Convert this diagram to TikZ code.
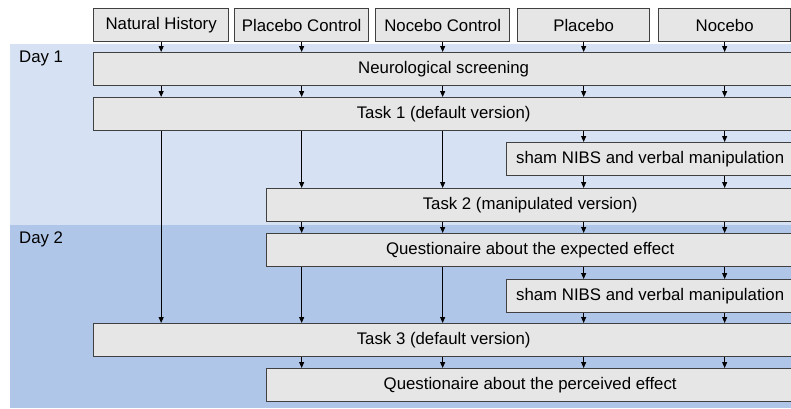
\documentclass[tikz,border=0pt]{standalone}
\usepackage{fontspec}
\setmainfont{Liberation Sans}
\usetikzlibrary{arrows.meta}
\definecolor{dayone}{RGB}{214,226,243}
\definecolor{daytwo}{RGB}{176,198,232}
\definecolor{boxfill}{RGB}{230,230,230}
\definecolor{boxline}{RGB}{64,64,64}
\tikzset{
  stage/.style={draw=boxline, fill=boxfill, line width=1.3pt, anchor=north west,
    minimum height=33pt, inner sep=0pt, font=\fontsize{16.8}{20}\selectfont},
  daylabel/.style={anchor=west, inner sep=0pt, font=\fontsize{16.8}{20}\selectfont},
  flow/.style={-{Triangle[width=5pt,length=6pt]}, line width=0.9pt, black}
}
\begin{document}
\begin{tikzpicture}[x=1pt, y=-1pt]
\useasboundingbox (0,0) rectangle (791,408);
% day backgrounds
\fill[dayone] (10,44) rectangle (791,225);
\fill[daytwo] (10,225) rectangle (791,408);
\node[daylabel] (day1) at (19,58) {Day 1};
\node[daylabel] (day2) at (19,239) {Day 2};

% groups
\node[stage, minimum width=135pt] (nathist) at (93,8) {Natural History};
\node[stage, minimum width=134pt] (plactrl) at (234,8) {Placebo Control};
\node[stage, minimum width=134pt] (noctrl) at (375,8) {Nocebo Control};
\node[stage, minimum width=132pt] (plac) at (517,8) {Placebo};
\node[stage, minimum width=132pt] (noc) at (658,8) {Nocebo};

% stages
\node[stage, minimum width=700pt] (neuro) at (93,52) {Neurological screening};
\node[stage, minimum width=700pt] (task1) at (93,97) {Task 1 (default version)};
\node[stage, minimum width=287pt] (sham1) at (506,142) {sham NIBS and verbal manipulation};
\node[stage, minimum width=527pt] (task2) at (266,188) {Task 2 (manipulated version)};
\node[stage, minimum width=527pt] (qexp) at (266,233) {Questionaire about the expected effect};
\node[stage, minimum width=287pt] (sham2) at (506,279) {sham NIBS and verbal manipulation};
\node[stage, minimum width=700pt] (task3) at (93,323) {Task 3 (default version)};
\node[stage, minimum width=527pt] (qper) at (266,368) {Questionaire about the perceived effect};

% connectors
\foreach \g in {nathist,plactrl,noctrl,plac,noc} {
  \draw[flow] (\g.south) -- (neuro.north -| \g.south);
  \draw[flow] (neuro.south -| \g.south) -- (task1.north -| \g.south);
}
\draw[flow] (task1.south -| nathist.south) -- (task3.north -| nathist.south);
\foreach \g in {plactrl,noctrl} {
  \draw[flow] (task1.south -| \g.south) -- (task2.north -| \g.south);
  \draw[flow] (qexp.south -| \g.south) -- (task3.north -| \g.south);
}
\foreach \g in {plac,noc} {
  \draw[flow] (task1.south -| \g.south) -- (sham1.north -| \g.south);
  \draw[flow] (sham1.south -| \g.south) -- (task2.north -| \g.south);
  \draw[flow] (qexp.south -| \g.south) -- (sham2.north -| \g.south);
  \draw[flow] (sham2.south -| \g.south) -- (task3.north -| \g.south);
}
\foreach \g in {plactrl,noctrl,plac,noc} {
  \draw[flow] (task2.south -| \g.south) -- (qexp.north -| \g.south);
  \draw[flow] (task3.south -| \g.south) -- (qper.north -| \g.south);
}
\end{tikzpicture}
\end{document}
